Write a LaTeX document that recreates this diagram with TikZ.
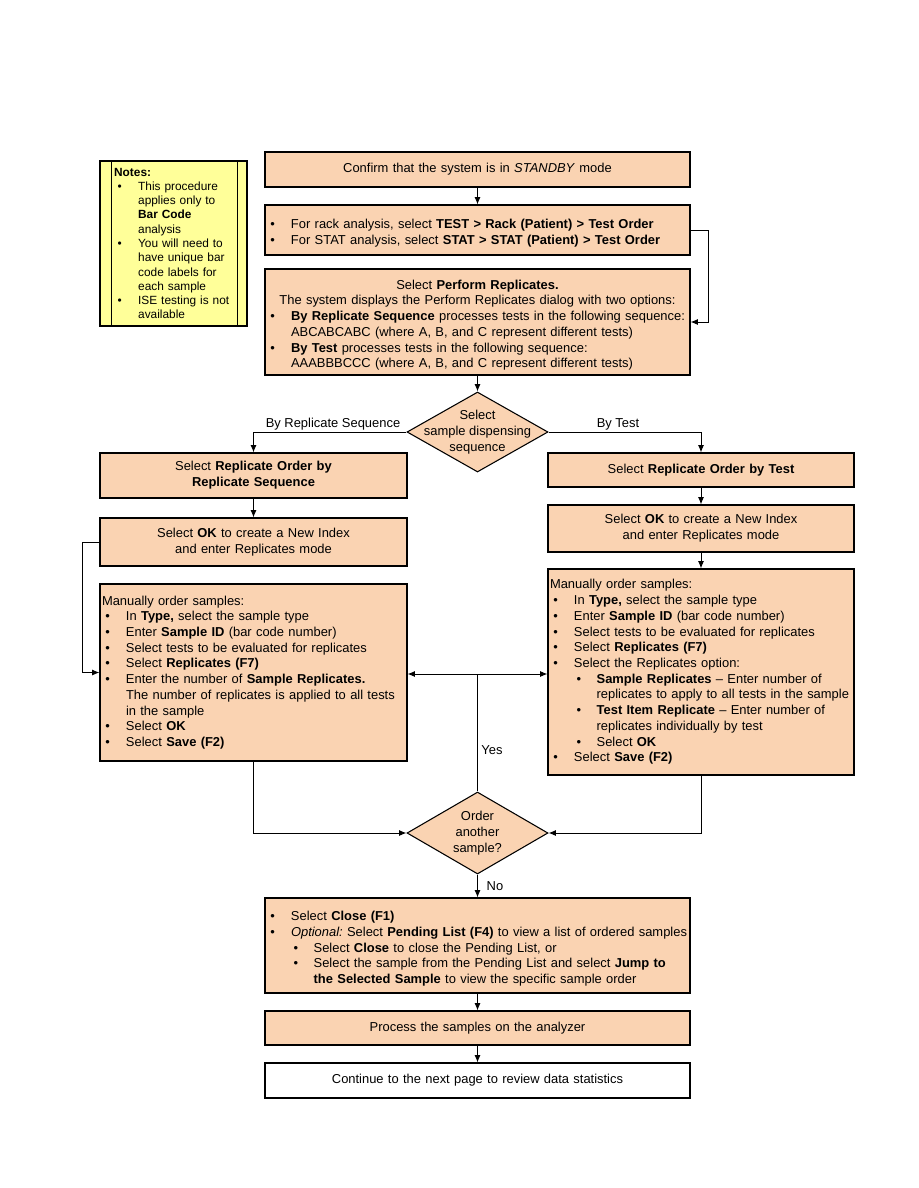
\documentclass[tikz,border=0pt]{standalone}
\usepackage{fontspec}
\setmainfont{Liberation Sans}
\usetikzlibrary{arrows.meta,positioning,shapes.geometric}
\definecolor{flowpeach}{HTML}{FAD3B2}
\definecolor{noteyellow}{HTML}{FFFF99}
\frenchspacing
\hyphenpenalty=10000
% bullet lines inside the boxes
\newcommand{\bitem}[1]{\par\hangindent=18pt\hangafter=1\noindent\hbox to 18pt{\hspace{2.5pt}\textbullet\hfil}#1\par}
\newcommand{\sbitem}[1]{\par\hangindent=35pt\hangafter=1\noindent\hbox to 35pt{\hspace{20pt}\textbullet\hfil}#1\par}
\newcommand{\midline}[1]{\par\noindent\hbox to \hsize{\hfil#1\hfil}\par}
\tikzset{
  flowbox/.style={
    draw=black,
    fill=flowpeach,
    line width=0.8pt,
    inner xsep=1.5pt,
    inner ysep=0pt,
    align=left
  },
  widebox/.style={flowbox, minimum width=318.75pt, text width=315.75pt},
  leftbox/.style={flowbox, minimum width=230.25pt, text width=227.25pt},
  rightbox/.style={flowbox, minimum width=229.5pt, text width=226.5pt},
  decision/.style={
    diamond,
    draw=black,
    fill=flowpeach,
    line width=0.8pt,
    inner sep=0pt,
    minimum width=105.75pt
  },
  notebox/.style={
    draw=black,
    fill=noteyellow,
    line width=0.8pt,
    minimum width=110.25pt,
    minimum height=123.75pt,
    text width=89pt,
    inner xsep=9.75pt,
    align=left,
    font=\fontsize{8.9}{10.7}\selectfont
  },
  arrow/.style={
    -{Latex[length=5.5pt,width=4.5pt]},
    line width=0.75pt
  },
  line/.style={line width=0.75pt}
}
\begin{document}
\begin{tikzpicture}[x=0.75pt, y=-0.75pt, font=\fontsize{9.7}{11.8}\selectfont]
\useasboundingbox (0,0) rectangle (918,1188);

% notes at the side
\node[notebox] (notes) at (173.5,243.5) {\noindent\textbf{Notes:}
  \bitem{This procedure\newline applies only to\newline \textbf{Bar Code}\newline analysis}
  \bitem{You will need to\newline have unique bar\newline code labels for\newline each sample}
  \bitem{ISE testing is not\newline available}};
\draw[line width=1.3pt] ([xshift=9pt]notes.north west) -- ([xshift=9pt]notes.south west);
\draw[line width=1.3pt] ([xshift=-7.5pt]notes.north east) -- ([xshift=-7.5pt]notes.south east);

% main column
\node[widebox, align=center, minimum height=26.25pt] (confirm) at (477.5,169.5)
  {Confirm that the system is in \textit{STANDBY} mode};
\node[widebox, minimum height=37.5pt] (selmenu) at (477.5,230)
  {\bitem{For rack analysis, select \textbf{TEST > Rack (Patient) > Test Order}}
   \bitem{For STAT analysis, select \textbf{STAT > STAT (Patient) > Test Order}}};
\node[widebox, minimum height=79.5pt] (perform) at (477.5,322)
  {\midline{Select \textbf{Perform Replicates.}}
   \midline{The system displays the Perform Replicates dialog with two options:}
   \bitem{\textbf{By Replicate Sequence} processes tests in the following sequence:\newline ABCABCABC (where A, B, and C represent different tests)}
   \bitem{\textbf{By Test} processes tests in the following sequence:\newline AAABBBCCC (where A, B, and C represent different tests)}};
\node[decision, minimum height=60pt] (seqdec) at (477.5,432) {};
\node[align=center, inner sep=0pt] (seqtext) at (seqdec) {Select\\sample dispensing\\sequence};

% left branch
\node[leftbox, align=center, minimum height=33.75pt] (byseq) at (253.5,475.5)
  {Select \textbf{Replicate Order by}\\\textbf{Replicate Sequence}};
\node[leftbox, align=center, minimum height=36pt] (okleft) at (253.5,542)
  {Select \textbf{OK} to create a New Index\\and enter Replicates mode};
\node[leftbox, minimum height=132.75pt] (manleft) at (253.5,672.5)
  {\noindent Manually order samples:
   \bitem{In \textbf{Type,} select the sample type}
   \bitem{Enter \textbf{Sample ID} (bar code number)}
   \bitem{Select tests to be evaluated for replicates}
   \bitem{Select \textbf{Replicates (F7)}}
   \bitem{Enter the number of \textbf{Sample Replicates.}\newline The number of replicates is applied to all tests\newline in the sample}
   \bitem{Select \textbf{OK}}
   \bitem{Select \textbf{Save (F2)}}};

% right branch
\node[rightbox, align=center, minimum height=25.5pt] (bytest) at (701,470)
  {Select \textbf{Replicate Order by Test}};
\node[rightbox, align=center, minimum height=35.25pt] (okright) at (701,528.5)
  {Select \textbf{OK} to create a New Index\\and enter Replicates mode};
\node[rightbox, minimum height=154.5pt] (manright) at (701,672)
  {\noindent Manually order samples:
   \bitem{In \textbf{Type,} select the sample type}
   \bitem{Enter \textbf{Sample ID} (bar code number)}
   \bitem{Select tests to be evaluated for replicates}
   \bitem{Select \textbf{Replicates (F7)}}
   \bitem{Select the Replicates option:}
   \sbitem{\textbf{Sample Replicates} -- Enter number of\newline replicates to apply to all tests in the sample}
   \sbitem{\textbf{Test Item Replicate} -- Enter number of\newline replicates individually by test}
   \sbitem{Select \textbf{OK}}
   \bitem{Select \textbf{Save (F2)}}};

% loop decision and end
\node[decision, minimum height=61.5pt] (another) at (477.5,833) {};
\node[align=center, inner sep=0pt] (anothertext) at (another) {Order\\another\\sample?};
\node[widebox, minimum height=71.25pt] (closebox) at (477.5,945.5)
  {\bitem{Select \textbf{Close (F1)}}
   \bitem{\textit{Optional:} Select \textbf{Pending List (F4)} to view a list of ordered samples}
   \sbitem{Select \textbf{Close} to close the Pending List, or}
   \sbitem{Select the sample from the Pending List and select \textbf{Jump to}\newline \textbf{the Selected Sample} to view the specific sample order}};
\node[widebox, align=center, minimum height=25.5pt] (process) at (477.5,1028)
  {Process the samples on the analyzer};
\node[widebox, align=center, fill=white, minimum height=26.25pt] (nextpage) at (477.5,1080.5)
  {Continue to the next page to review data statistics};

\coordinate (yesjoin) at (477.5,674);

% connectors
\draw[arrow] (confirm) -- (selmenu);
\draw[arrow] (selmenu.east) -- ++(18,0) |- (perform.east);
\draw[arrow] (perform) -- (seqdec);
\draw[arrow] (seqdec.west) -| (byseq.north);
\draw[arrow] (seqdec.east) -| (bytest.north);
\draw[arrow] (byseq) -- (okleft);
\draw[arrow] (okleft.west) -- ++(-17,0) |- (manleft.west);
\draw[arrow] (bytest) -- (okright);
\draw[arrow] (okright) -- (manright);
\draw[arrow] (manleft.south) |- (another.west);
\draw[arrow] (manright.south) |- (another.east);
\draw[line] (another.north) -- (yesjoin);
\draw[arrow] (yesjoin) -- (manleft.east |- yesjoin);
\draw[arrow] (yesjoin) -- (manright.west |- yesjoin);
\draw[arrow] (another) -- (closebox);
\draw[arrow] (closebox) -- (process);
\draw[arrow] (process) -- (nextpage);

% branch labels
\node (seqlabel) at (333,424) {By Replicate Sequence};
\node (testlabel) at (618,424) {By Test};
\node (yeslabel) at (492,750) {Yes};
\node (nolabel) at (495,886) {No};
\end{tikzpicture}
\end{document}
